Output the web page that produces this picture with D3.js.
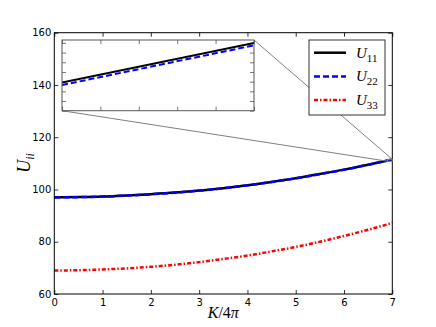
<!DOCTYPE html>
<html>
<head>
<meta charset="utf-8">
<script src="https://cdn.jsdelivr.net/npm/d3@7"></script>
<style>
  body { margin: 0; background: #fff; }
  svg { display: block; }
  .tick text { font-family: "DejaVu Sans", sans-serif; font-size: 10px; fill: #000; }
  .math { font-family: "Liberation Serif", "DejaVu Serif", serif; font-style: italic; }
  .sub { font-style: normal; }
</style>
</head>
<body>
<svg id="chart"></svg>
<script>
// data
var K = [0, 0.5, 1, 1.5, 2, 2.5, 3, 3.5, 4, 4.5, 5, 5.5, 6, 6.5, 7];
var U11 = [97.0, 97.1, 97.3, 97.7, 98.2, 98.8, 99.6, 100.5, 101.6, 102.9, 104.3, 105.9, 107.6, 109.5, 111.5];
var U22 = [96.97, 97.07, 97.27, 97.67, 98.17, 98.77, 99.57, 100.47, 101.57, 102.87, 104.27, 105.87, 107.57, 109.47, 111.47];
var U33 = [69.0, 69.1, 69.4, 69.8, 70.4, 71.2, 72.2, 73.4, 74.7, 76.3, 78.0, 80.0, 82.2, 84.6, 87.2];

// zoomed inset
var insetK = [6.9, 7.0];
var insetU11 = [111.09, 111.50];
var insetU22 = [111.065, 111.475];
var insetXDomain = [6.9, 7.0];
var insetYDomain = [110.8, 111.53];

var xTicks = [0, 1, 2, 3, 4, 5, 6, 7];
var yTicks = [60, 80, 100, 120, 140, 160];

var series = [
  {name: "11", values: U11, color: "#000000", dash: null},
  {name: "22", values: U22, color: "#0000ff", dash: "6,3"},
  {name: "33", values: U33, color: "#ff0000", dash: "4,2,1.5,2"}
];

var W = 436, H = 327;
var margin = {top: 32.7, right: 43.7, bottom: 33, left: 54.3};
var iw = W - margin.left - margin.right;
var ih = H - margin.top - margin.bottom;

var svg = d3.select("#chart").attr("width", W).attr("height", H);
var chart = svg.append("g").attr("transform", `translate(${margin.left},${margin.top})`);

var x = d3.scaleLinear().domain([0, 7]).range([0, iw]);
var y = d3.scaleLinear().domain([60, 160]).range([ih, 0]);

// axes, ticks inward on all sides
chart.append("g").attr("transform", `translate(0,${ih})`)
  .call(d3.axisBottom(x).tickValues(xTicks).tickSizeInner(-4).tickSizeOuter(0).tickPadding(5).tickFormat(d3.format("d")));
chart.append("g")
  .call(d3.axisTop(x).tickValues(xTicks).tickSizeInner(-4).tickSizeOuter(0).tickFormat(""));
chart.append("g")
  .call(d3.axisLeft(y).tickValues(yTicks).tickSizeInner(-4).tickSizeOuter(0).tickPadding(3).tickFormat(d3.format("d")));
chart.append("g").attr("transform", `translate(${iw},0)`)
  .call(d3.axisRight(y).tickValues(yTicks).tickSizeInner(-4).tickSizeOuter(0).tickFormat(""));
chart.selectAll(".domain").remove();
chart.selectAll(".tick line").attr("stroke", "#000").attr("stroke-width", 0.8);

var line = d3.line().x(function(d, i){ return x(K[i]); }).y(function(d){ return y(d); }).curve(d3.curveMonotoneX);

chart.selectAll("path.series")
  .data(series).enter()
  .append("path").attr("class", "series")
  .attr("d", function(d){ return line(d.values); })
  .attr("fill", "none")
  .attr("stroke", function(d){ return d.color; })
  .attr("stroke-width", 2.5)
  .attr("stroke-dasharray", function(d){ return d.dash; });

// frame
chart.append("rect").attr("width", iw).attr("height", ih)
  .attr("fill", "none").attr("stroke", "#000").attr("stroke-width", 1);

// inset
var ins = {x0: 62 - margin.left, y0: 40 - margin.top, w: 192, h: 70.7};
var ix = d3.scaleLinear().domain(insetXDomain).range([ins.x0, ins.x0 + ins.w]);
var iy = d3.scaleLinear().domain(insetYDomain).range([ins.y0 + ins.h, ins.y0]);

// zoom box in main axes and connectors
var zb = {x0: x(insetXDomain[0]), x1: x(insetXDomain[1]), y0: y(insetYDomain[1]), y1: y(insetYDomain[0])};
chart.append("rect").attr("x", zb.x0).attr("y", zb.y0).attr("width", zb.x1 - zb.x0).attr("height", zb.y1 - zb.y0)
  .attr("fill", "none").attr("stroke", "#808080").attr("stroke-width", 1);
chart.append("line").attr("x1", ins.x0).attr("y1", ins.y0 + ins.h).attr("x2", zb.x0).attr("y2", zb.y1)
  .attr("stroke", "#808080").attr("stroke-width", 1);
chart.append("line").attr("x1", ins.x0 + ins.w).attr("y1", ins.y0).attr("x2", zb.x1).attr("y2", zb.y0)
  .attr("stroke", "#808080").attr("stroke-width", 1);

var inset = chart.append("g");
inset.append("rect").attr("x", ins.x0).attr("y", ins.y0).attr("width", ins.w).attr("height", ins.h).attr("fill", "#fff");
svg.append("defs").append("clipPath").attr("id", "insclip")
  .append("rect").attr("x", ins.x0).attr("y", ins.y0).attr("width", ins.w).attr("height", ins.h);

var ixTicks = ix.ticks(4);
var iyTicks = iy.ticks(7);
inset.append("g").attr("transform", `translate(0,${ins.y0 + ins.h})`)
  .call(d3.axisBottom(ix).tickValues(ixTicks).tickSizeInner(-4).tickSizeOuter(0).tickFormat(""));
inset.append("g").attr("transform", `translate(0,${ins.y0})`)
  .call(d3.axisTop(ix).tickValues(ixTicks).tickSizeInner(-4).tickSizeOuter(0).tickFormat(""));
inset.append("g").attr("transform", `translate(${ins.x0},0)`)
  .call(d3.axisLeft(iy).tickValues(iyTicks).tickSizeInner(-4).tickSizeOuter(0).tickFormat(""));
inset.append("g").attr("transform", `translate(${ins.x0 + ins.w},0)`)
  .call(d3.axisRight(iy).tickValues(iyTicks).tickSizeInner(-4).tickSizeOuter(0).tickFormat(""));
inset.selectAll(".domain").remove();
inset.selectAll(".tick line").attr("stroke", "#555").attr("stroke-width", 0.8);

var iline = d3.line().x(function(d, i){ return ix(insetK[i]); }).y(function(d){ return iy(d); });
var insetSeries = [
  {values: insetU11, color: "#000000", dash: null},
  {values: insetU22, color: "#0000ff", dash: "6,3"}
];
inset.append("g").attr("clip-path", "url(#insclip)")
  .selectAll("path").data(insetSeries).enter()
  .append("path")
  .attr("d", function(d){ return iline(d.values); })
  .attr("fill", "none")
  .attr("stroke", function(d){ return d.color; })
  .attr("stroke-width", 2)
  .attr("stroke-dasharray", function(d){ return d.dash; });
inset.append("rect").attr("x", ins.x0).attr("y", ins.y0).attr("width", ins.w).attr("height", ins.h)
  .attr("fill", "none").attr("stroke", "#555").attr("stroke-width", 1);

// legend
var lg = svg.append("g").attr("transform", "translate(309,40)");
lg.append("rect").attr("width", 76).attr("height", 75).attr("fill", "#fff").attr("stroke", "#333").attr("stroke-width", 1);
var rows = lg.selectAll("g.row").data(series).enter().append("g").attr("class", "row")
  .attr("transform", function(d, i){ return `translate(0,${12.7 + i * 23.7})`; });
rows.append("line").attr("x1", 5).attr("x2", 37).attr("y1", 0).attr("y2", 0)
  .attr("stroke", function(d){ return d.color; }).attr("stroke-width", 2.5)
  .attr("stroke-dasharray", function(d){ return d.dash; });
var lt = rows.append("text").attr("class", "math").attr("x", 47).attr("y", 5).attr("font-size", 15);
lt.append("tspan").text("U");
lt.append("tspan").attr("class", "sub").attr("dy", 4).attr("font-size", 11).text(function(d){ return d.name; });

// axis labels
var xl = svg.append("text").attr("class", "math").attr("x", margin.left + iw / 2).attr("y", 318)
  .attr("text-anchor", "middle").attr("font-size", 16);
xl.append("tspan").text("K");
xl.append("tspan").attr("class", "sub").text("/4");
xl.append("tspan").text("π");

var yl = svg.append("text").attr("class", "math")
  .attr("transform", "translate(30,163) rotate(-90)")
  .attr("text-anchor", "middle").attr("font-size", 18);
yl.append("tspan").text("U");
yl.append("tspan").attr("dy", 4).attr("font-size", 12).text("ii");
</script>
</body>
</html>
